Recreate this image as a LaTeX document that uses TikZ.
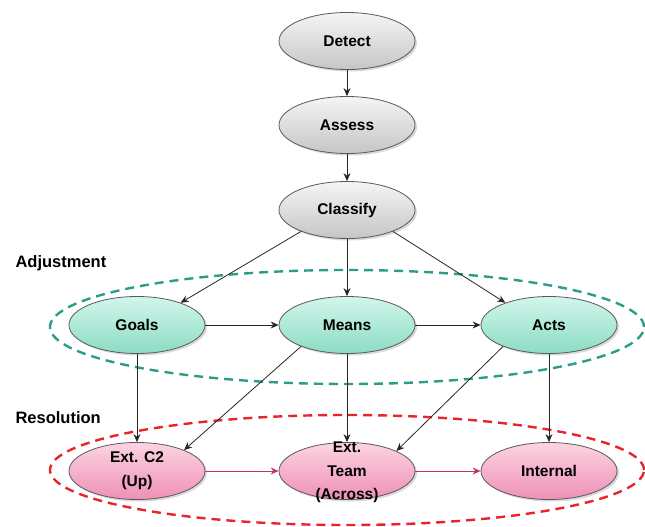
\documentclass[tikz,border=0pt]{standalone}
\usepackage{fontspec}
\setmainfont{Liberation Sans}
\usepackage{xcolor}
\usetikzlibrary{shapes.geometric,arrows.meta,shadows}
\definecolor{tealring}{HTML}{2A9D8A}
\definecolor{redring}{HTML}{E8232A}
\definecolor{pinkarrow}{HTML}{C2336E}
\definecolor{adjtop}{RGB}{210,246,236}
\definecolor{adjbottom}{RGB}{140,220,196}
\definecolor{restop}{RGB}{252,212,226}
\definecolor{resbottom}{RGB}{238,144,182}
\tikzstyle{stage}=[ellipse, draw=black!65, thick, minimum width=136pt, minimum height=57pt, inner sep=0pt, align=center, font=\bfseries\fontsize{15.5}{24}\selectfont, drop shadow={opacity=0.3,shadow xshift=2pt,shadow yshift=-2pt}]
\tikzstyle{grayshading}=[top color=gray!8, bottom color=gray!45]
\tikzstyle{adjshading}=[top color=adjtop, bottom color=adjbottom]
\tikzstyle{resshading}=[top color=restop, bottom color=resbottom]
\tikzstyle{ring}=[line width=2.4pt, dash pattern=on 9pt off 6pt]
\tikzstyle{flow}=[-{Stealth[length=8pt,width=7pt]}, line width=0.8pt, black!85]
\tikzstyle{pinkflow}=[-{Stealth[length=8pt,width=7pt]}, line width=0.8pt, pinkarrow]
\tikzstyle{grouplabel}=[anchor=west, font=\bfseries\fontsize{16.5}{18}\selectfont]
\newcommand{\tightstack}[1]{\smash{\raisebox{-4pt}{\renewcommand{\arraystretch}{0.96}\begin{tabular}{@{}c@{}}#1\end{tabular}}}}

\begin{document}
\begin{tikzpicture}[x=1pt,y=-1pt]
	\useasboundingbox (0,0) rectangle (645,527);
	\draw[ring, tealring] (347,327) ellipse [x radius=297pt, y radius=57pt];
	\draw[ring, redring] (347,470) ellipse [x radius=297pt, y radius=55pt];
	\node[grouplabel] (adjlabel) at (12,263) {Adjustment};
	\node[grouplabel] (reslabel) at (12,418) {Resolution};
	\node[stage, grayshading] (detect) at (347,41) {Detect};
	\node[stage, grayshading] (assess) at (347,125) {Assess};
	\node[stage, grayshading] (classify) at (347,210) {Classify};
	\node[stage, adjshading] (goals) at (137,325) {Goals};
	\node[stage, adjshading] (means) at (347,325) {Means};
	\node[stage, adjshading] (acts) at (549,325) {Acts};
	\node[stage, resshading] (extup) at (137,471) {Ext. C2\\(Up)};
	\node[stage, resshading] (extacross) at (347,471) {\tightstack{Ext.\\Team\\(Across)}};
	\node[stage, resshading] (internal) at (549,471) {Internal};
	\draw[flow] (detect) -- (assess);
	\draw[flow] (assess) -- (classify);
	\draw[flow] (classify.205) -- (goals.27);
	\draw[flow] (classify) -- (means);
	\draw[flow] (classify.335) -- (acts.153);
	\draw[flow] (goals) -- (means);
	\draw[flow] (means) -- (acts);
	\draw[flow] (goals) -- (extup);
	\draw[flow] (means.205) -- (extup.24);
	\draw[flow] (means) -- (extacross);
	\draw[flow] (acts.205) -- (extacross.22);
	\draw[flow] (acts) -- (internal);
	\draw[pinkflow] (extup) -- (extacross);
	\draw[pinkflow] (extacross) -- (internal);
\end{tikzpicture}
\end{document}
